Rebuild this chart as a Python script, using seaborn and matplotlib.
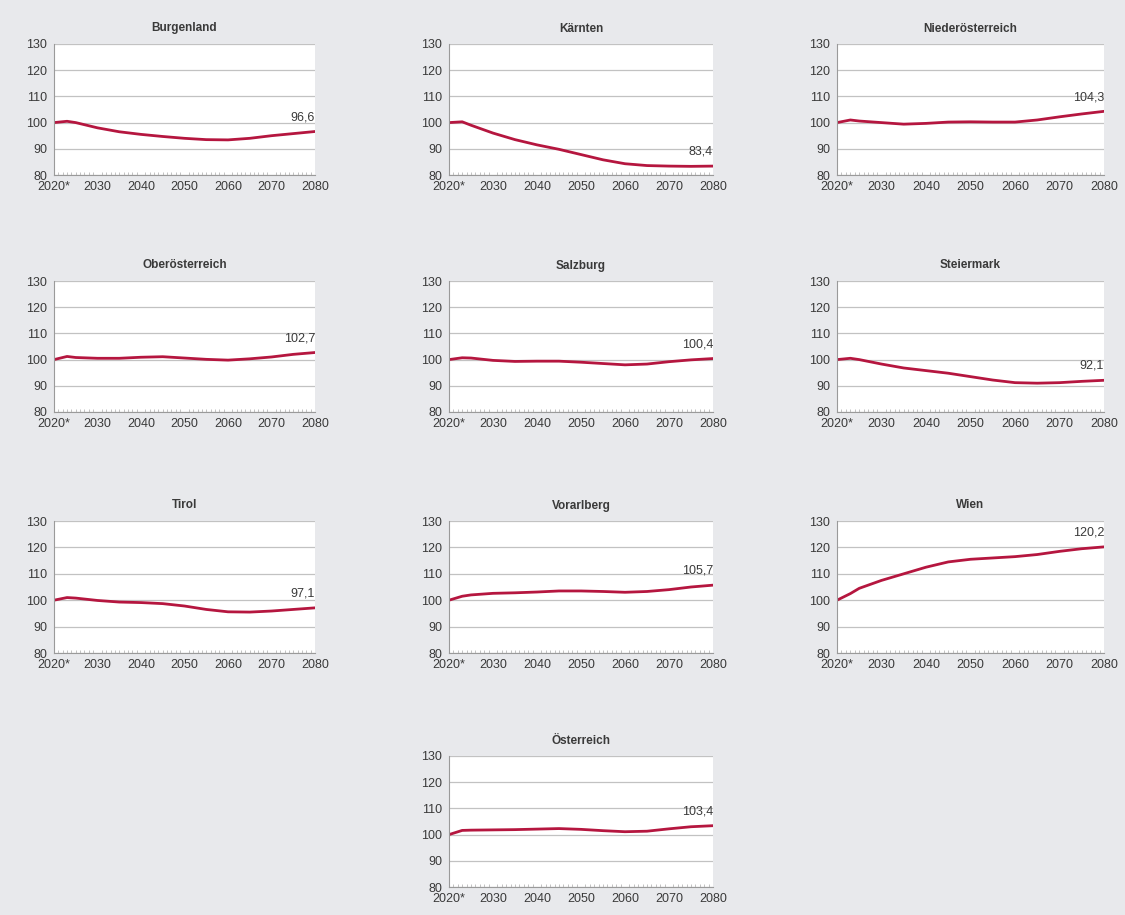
import numpy as np
import pandas as pd
import matplotlib
matplotlib.use("Agg")
import matplotlib.pyplot as plt
from matplotlib.ticker import MultipleLocator
import seaborn as sns

# Bevölkerungsentwicklung nach Bundesländern, Index 2020 = 100
years = [2020, 2023, 2025, 2030, 2035, 2040, 2045, 2050, 2055, 2060, 2065, 2070, 2075, 2080]

burgenland       = [100, 100.5, 100.0, 98.0, 96.5, 95.5, 94.7, 94.0, 93.5, 93.4, 94.0, 95.0, 95.8, 96.6]
kaernten         = [100, 100.3, 99.0, 96.0, 93.5, 91.5, 89.8, 87.8, 85.8, 84.3, 83.6, 83.4, 83.3, 83.4]
niederoesterreich = [100, 101.0, 100.6, 100.0, 99.4, 99.7, 100.2, 100.3, 100.2, 100.2, 101.0, 102.2, 103.3, 104.3]
oberoesterreich  = [100, 101.2, 100.8, 100.5, 100.5, 100.9, 101.1, 100.6, 100.1, 99.8, 100.3, 101.0, 102.0, 102.7]
salzburg         = [100, 100.7, 100.6, 99.7, 99.3, 99.4, 99.4, 99.0, 98.5, 98.0, 98.3, 99.2, 99.9, 100.4]
steiermark       = [100, 100.5, 100.0, 98.3, 96.8, 95.8, 94.8, 93.5, 92.2, 91.2, 91.0, 91.2, 91.7, 92.1]
tirol            = [100, 101.0, 100.8, 99.9, 99.3, 99.1, 98.7, 97.8, 96.5, 95.6, 95.5, 95.9, 96.5, 97.1]
vorarlberg       = [100, 101.5, 102.0, 102.6, 102.8, 103.1, 103.5, 103.5, 103.3, 103.0, 103.3, 104.0, 105.0, 105.7]
wien             = [100, 102.5, 104.5, 107.5, 110.0, 112.5, 114.5, 115.5, 116.0, 116.5, 117.3, 118.5, 119.5, 120.2]
oesterreich      = [100, 101.6, 101.7, 101.8, 101.9, 102.1, 102.3, 102.0, 101.5, 101.1, 101.3, 102.2, 103.0, 103.4]

regions = ["Burgenland", "Kärnten", "Niederösterreich",
           "Oberösterreich", "Salzburg", "Steiermark",
           "Tirol", "Vorarlberg", "Wien", "Österreich"]
series = [burgenland, kaernten, niederoesterreich,
          oberoesterreich, salzburg, steiermark,
          tirol, vorarlberg, wien, oesterreich]
end_labels = ["96,6", "83,4", "104,3", "102,7", "100,4", "92,1", "97,1", "105,7", "120,2", "103,4"]

x_ticks = [2020, 2030, 2040, 2050, 2060, 2070, 2080]
x_ticklabels = ["2020*", "2030", "2040", "2050", "2060", "2070", "2080"]
y_ticks = [80, 90, 100, 110, 120, 130]

df = pd.concat(
    [pd.DataFrame({"Jahr": years, "Index": vals, "Region": name})
     for name, vals in zip(regions, series)],
    ignore_index=True,
)

sns.set_theme(style="white")
plt.rcParams["font.family"] = ["Liberation Sans", "DejaVu Sans"]

BG = "#e8e9ec"
LINE = "#b5163f"
GRID = "#c2c2c2"
TXT = "#3a3a3a"

W, H = 1125, 915
fig = plt.figure(figsize=(W / 100, H / 100), dpi=100, facecolor=BG)

col_x = [(54, 315), (449, 713), (837, 1104)]
row_y = [(44, 175), (281, 412), (521, 653), (756, 887)]
slots = [(0, 0), (0, 1), (0, 2),
         (1, 0), (1, 1), (1, 2),
         (2, 0), (2, 1), (2, 2),
         (3, 1)]

for name, label, (r, c) in zip(regions, end_labels, slots):
    x0, x1 = col_x[c]
    y0, y1 = row_y[r]
    ax = fig.add_axes([x0 / W, 1 - y1 / H, (x1 - x0) / W, (y1 - y0) / H])
    ax.set_facecolor("white")
    sub = df[df["Region"] == name]
    sns.lineplot(data=sub, x="Jahr", y="Index", ax=ax, color=LINE, lw=2.0)
    ax.set_xlim(2020, 2080)
    ax.set_ylim(80, 130)
    ax.set_yticks(y_ticks)
    ax.set_xticks(x_ticks)
    ax.set_xticklabels(x_ticklabels)
    ax.xaxis.set_minor_locator(MultipleLocator(1))
    ax.set_xlabel("")
    ax.set_ylabel("")
    ax.yaxis.grid(True, color=GRID, lw=0.9)
    ax.set_axisbelow(True)
    for s in ["top", "right"]:
        ax.spines[s].set_visible(False)
    for s in ["left", "bottom"]:
        ax.spines[s].set_color("#9a9a9a")
        ax.spines[s].set_linewidth(0.8)
    ax.tick_params(axis="y", which="major", direction="out", length=3, width=0.7,
                   color="#9a9a9a", labelsize=9, labelcolor=TXT, pad=2)
    ax.tick_params(axis="x", which="major", direction="in", length=4, width=0.7,
                   color="#9a9a9a", labelsize=9, labelcolor=TXT, pad=4)
    ax.tick_params(axis="x", which="minor", direction="in", length=2, width=0.5,
                   color="#aaaaaa", bottom=True)
    ax.set_title(name, fontsize=8.5, fontweight="bold", color=TXT, pad=9)
    ax.annotate(label, xy=(sub["Jahr"].iloc[-1], sub["Index"].iloc[-1]),
                xytext=(0, 6), textcoords="offset points",
                ha="right", va="bottom", fontsize=9, color=TXT)

fig.savefig("out.png", dpi=100, facecolor=BG)
